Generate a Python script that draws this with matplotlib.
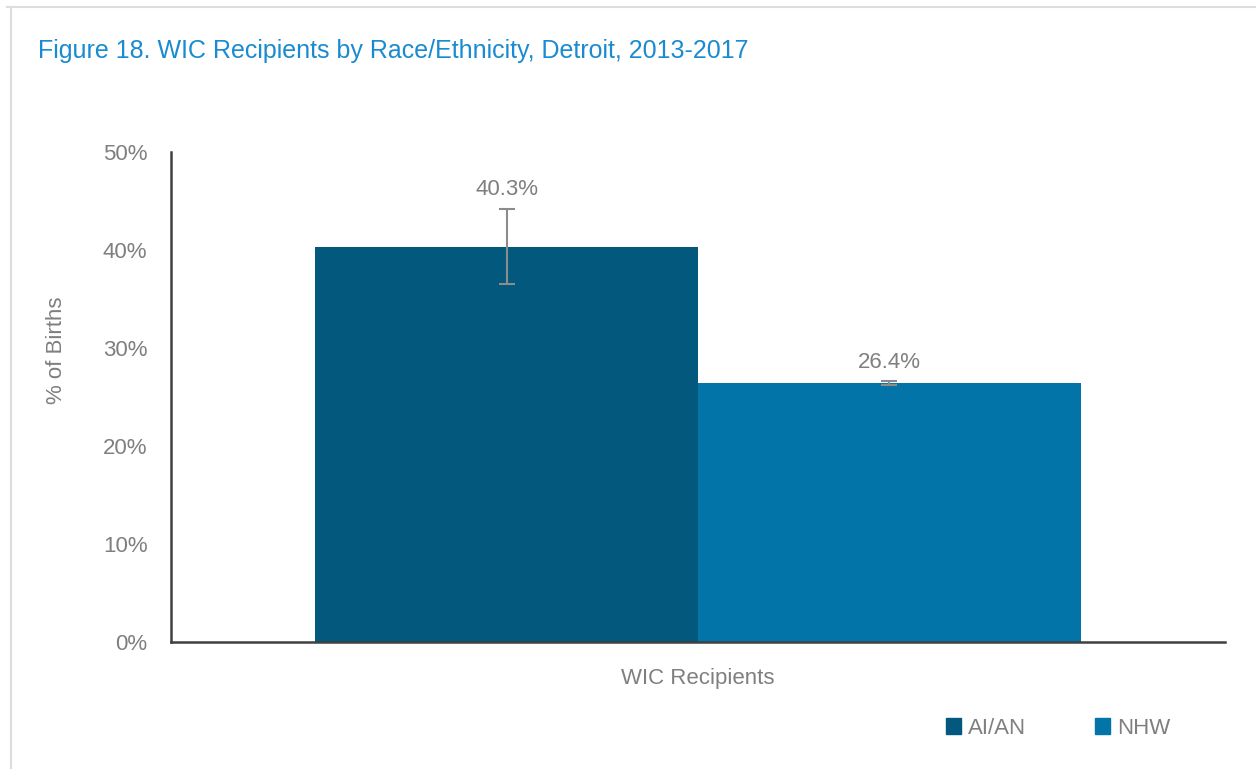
import matplotlib
matplotlib.use("Agg")
import matplotlib.pyplot as plt
from matplotlib.lines import Line2D
from matplotlib.patches import Patch
from matplotlib import font_manager

names = {f.name for f in font_manager.fontManager.ttflist}
FONT = "Liberation Sans Narrow" if "Liberation Sans Narrow" in names else "Liberation Sans"
plt.rcParams["font.family"] = [FONT, "DejaVu Sans"]

# data
categories = ["WIC Recipients"]
series = ["AI/AN", "NHW"]
values = [40.3, 26.4]
err_low = [36.5, 26.2]
err_high = [44.2, 26.6]
labels = ["40.3%", "26.4%"]
yticks = [0, 10, 20, 30, 40, 50]
colors = ["#03587D", "#0274A8"]
gray = "#7F7F7F"

W, H = 1256, 769
fig = plt.figure(figsize=(W / 100, H / 100), dpi=100)
ax = fig.add_axes([171 / W, 1 - 642 / H, (1225 - 171) / W, (642 - 152) / H])

# bars
xs = [-0.5, 0.5]
for x, v, lo, hi, c, lab in zip(xs, values, err_low, err_high, colors, labels):
    ax.bar(x, v, width=1.0, color=c, zorder=2)
    ax.errorbar(x, v, yerr=[[v - lo], [hi - v]], ecolor="#8C8C8C", elinewidth=1.5,
                capsize=6, capthick=1.5, fmt="none", zorder=3)
    ax.text(x, hi + 0.9, lab, ha="center", va="bottom", fontsize=16, color=gray)

ax.set_xlim(-1.376, 1.376)
ax.set_ylim(0, 50)
ax.set_yticks(yticks)
ax.set_yticklabels([f"{t}%" for t in yticks], fontsize=16, color=gray)
ax.tick_params(axis="y", length=0, pad=17)
ax.set_xticks([0])
ax.set_xticklabels(categories, fontsize=16, color=gray)
ax.tick_params(axis="x", length=0, pad=19)
for s in ["top", "right"]:
    ax.spines[s].set_visible(False)
for s in ["left", "bottom"]:
    ax.spines[s].set_color("#404040")
    ax.spines[s].set_linewidth(1.8)

# y label
fig.text(57 / W, 1 - 350 / H, "% of Births", fontsize=16, color=gray,
         rotation=90, ha="center", va="center")

# title
fig.text(38 / W, 1 - 51 / H, "Figure 18. WIC Recipients by Race/Ethnicity, Detroit, 2013-2017",
         fontsize=18, color="#1A8BD0", ha="left", va="center")

# legend
handles = [Patch(facecolor=c, edgecolor=c) for c in colors]
fig.legend(handles, series, loc="center", bbox_to_anchor=(1058 / W, 1 - 728 / H),
           ncol=2, frameon=False, fontsize=16, handlelength=0.7, handleheight=0.7,
           handletextpad=0.3, columnspacing=3.1, labelcolor=gray)

# outer border
fig.add_artist(Line2D([7 / W, 1], [1 - 7 / H, 1 - 7 / H], color="#DDDDDD", lw=1.5))
fig.add_artist(Line2D([11 / W, 11 / W], [0, 1 - 7 / H], color="#DDDDDD", lw=1.5))

fig.savefig("out.png", dpi=100)
